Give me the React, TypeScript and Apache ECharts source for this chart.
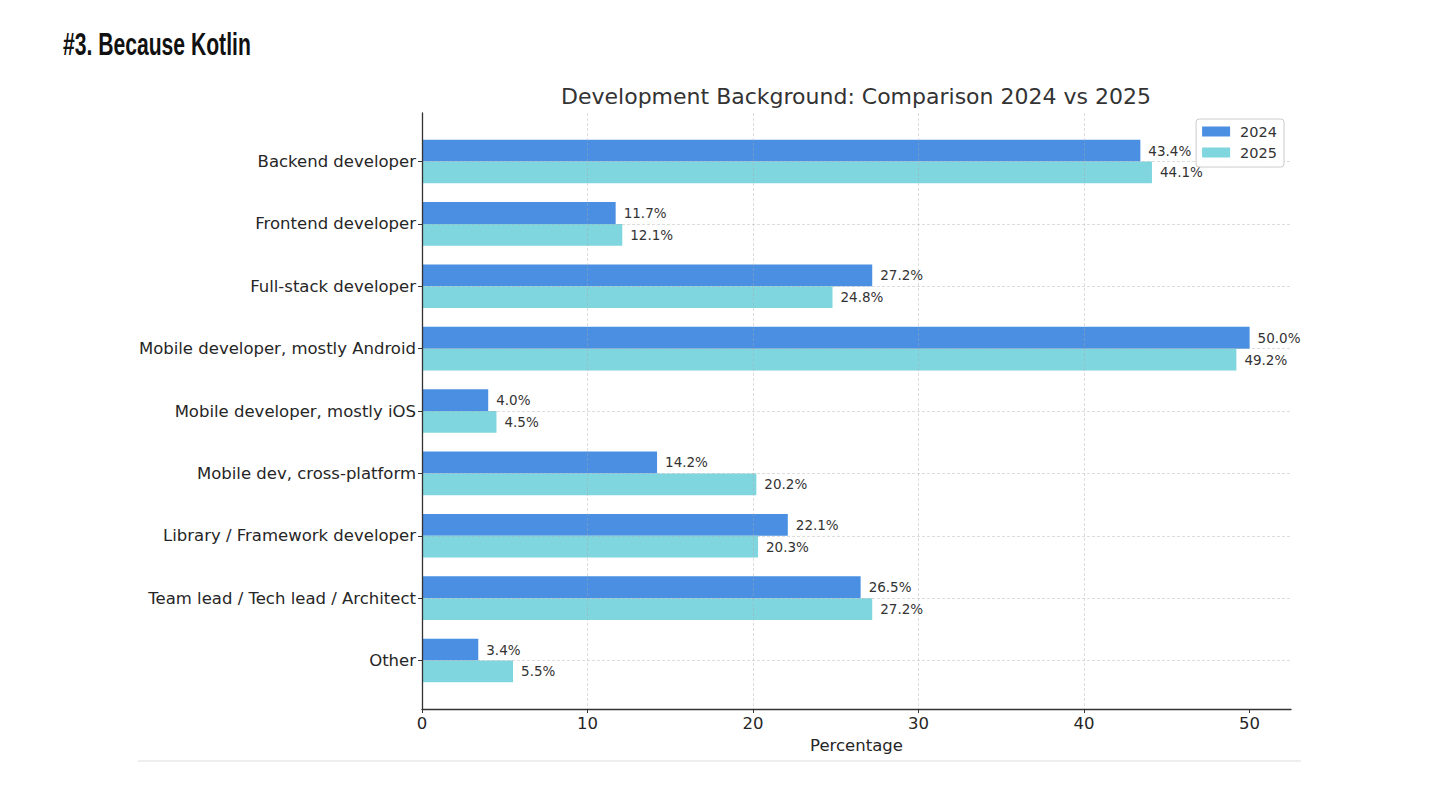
import React, { useEffect, useRef } from "react";
import * as echarts from "echarts";

const categories = [
  "Backend developer",
  "Frontend developer",
  "Full-stack developer",
  "Mobile developer, mostly Android",
  "Mobile developer, mostly iOS",
  "Mobile dev, cross-platform",
  "Library / Framework developer",
  "Team lead / Tech lead / Architect",
  "Other",
];
const values2024 = [43.4, 11.7, 27.2, 50.0, 4.0, 14.2, 22.1, 26.5, 3.4];
const values2025 = [44.1, 12.1, 24.8, 49.2, 4.5, 20.2, 20.3, 27.2, 5.5];
const seriesNames = ["2024", "2025"];
const xTicks = [0, 10, 20, 30, 40, 50];
const xMax = 52.5;

const colors = ["#4a8fe2", "#7fd6df"];
const FONT = "'DejaVu Sans', Verdana, sans-serif";

export default function App() {
  const ref = useRef<HTMLDivElement>(null);
  useEffect(() => {
    if (!ref.current) return;
    const chart = echarts.init(ref.current, null, { renderer: "svg" });
    const grid = {
      type: [3, 2],
      color: "rgba(170,170,170,0.5)",
      width: 0.8,
    };
    const mkSeries = (name: string, values: number[], color: string) => ({
      name,
      type: "bar",
      xAxisIndex: 1,
      yAxisIndex: 1,
      data: values,
      barWidth: 21.8,
      barGap: "0%",
      clip: false,
      itemStyle: { color },
      label: {
        show: true,
        position: "right",
        distance: 8,
        fontSize: 13.5,
        color: "#333",
        fontFamily: FONT,
        formatter: (p: any) => Number(p.value).toFixed(1) + "%",
      },
    });
    chart.setOption({
      animation: false,
      textStyle: { fontFamily: FONT },
      title: {
        text: "Development Background: Comparison 2024 vs 2025",
        left: 851,
        top: 80,
        textAlign: "center",
        textStyle: {
          fontFamily: FONT,
          fontSize: 22,
          fontWeight: "normal",
          color: "#333",
        },
      },
      legend: {
        orient: "vertical",
        right: 156,
        top: 119,
        data: seriesNames,
        icon: "rect",
        itemWidth: 28,
        itemHeight: 10,
        itemGap: 6,
        padding: [5, 7, 7, 6],
        borderColor: "#cccccc",
        borderWidth: 1,
        borderRadius: 3,
        backgroundColor: "rgba(255,255,255,0.85)",
        textStyle: {
          fontSize: 14.5,
          color: "#333",
          fontFamily: FONT,
          padding: [0, 0, 0, 5],
        },
        z: 10,
      },
      grid: [
        { left: 422, right: 149, top: 113, bottom: 101 },
        { left: 422, right: 149, top: 161.5, bottom: 149.5 },
      ],
      xAxis: [
        {
          gridIndex: 0,
          type: "value",
          min: 0,
          max: xMax,
          interval: 10,
          z: 3,
          name: "Percentage",
          nameLocation: "middle",
          nameGap: 21,
          nameTextStyle: { fontSize: 16.5, color: "#262626", fontFamily: FONT },
          axisLine: { show: true, lineStyle: { color: "#333", width: 1.3 } },
          axisTick: {
            show: true,
            inside: false,
            length: 4,
            customValues: xTicks,
            lineStyle: { color: "#333" },
          },
          axisLabel: {
            fontSize: 16.5,
            color: "#262626",
            margin: 6,
            customValues: xTicks,
            fontFamily: FONT,
          },
          splitLine: { show: true, showMaxLine: false, lineStyle: grid },
        },
        {
          gridIndex: 1,
          type: "value",
          min: 0,
          max: xMax,
          show: false,
        },
      ],
      yAxis: [
        {
          gridIndex: 0,
          type: "value",
          min: 0,
          max: 1,
          z: 3,
          axisLine: { show: true, lineStyle: { color: "#333", width: 1.3 } },
          axisTick: { show: false },
          axisLabel: { show: false },
          splitLine: { show: false },
        },
        {
          gridIndex: 1,
          type: "category",
          data: categories,
          inverse: true,
          boundaryGap: false,
          z: 3,
          axisLine: { show: false },
          axisTick: {
            show: true,
            inside: false,
            length: 4,
            lineStyle: { color: "#333" },
          },
          axisLabel: {
            fontSize: 16.5,
            color: "#262626",
            margin: 6,
            fontFamily: FONT,
          },
          splitLine: { show: true, lineStyle: grid },
        },
      ],
      graphic: [
        {
          type: "text",
          x: 63,
          y: 44,
          scaleX: 0.66,
          style: {
            text: "#3. Because Kotlin",
            fontSize: 32,
            fontFamily: "'Liberation Sans', Arial, sans-serif",
            fontWeight: "bold",
            fill: "#111",
            verticalAlign: "middle",
            align: "left",
          },
        },
        {
          type: "line",
          shape: { x1: 138, y1: 761, x2: 1301, y2: 761 },
          style: { stroke: "#dddddd", lineWidth: 1 },
        },
      ],
      series: [
        mkSeries(seriesNames[0], values2024, colors[0]),
        mkSeries(seriesNames[1], values2025, colors[1]),
      ],
    });
    return () => chart.dispose();
  }, []);
  return (
    <div
      ref={ref}
      style={{
        position: "fixed",
        left: 0,
        top: 0,
        width: 1440,
        height: 810,
        background: "#fff",
      }}
    />
  );
}
